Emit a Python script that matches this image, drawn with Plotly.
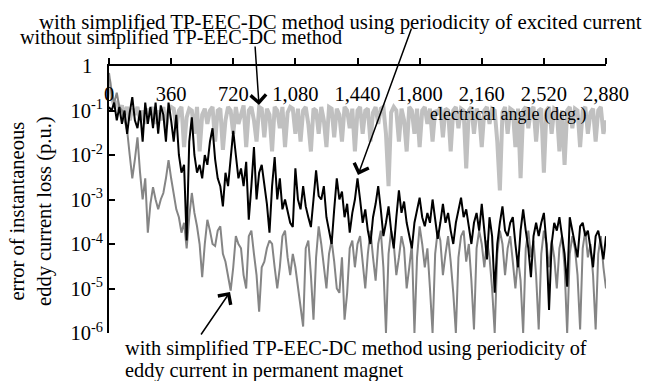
import plotly.graph_objects as go

# electrical angle samples (deg.), every 15 deg from 0 to 2880
angle_step = 15
n_points = 193
angles = [i * angle_step for i in range(n_points)]

x_tick_vals = [0, 360, 720, 1080, 1440, 1800, 2160, 2520, 2880]
x_tick_text = ["0", "360", "720", "1,080", "1,440", "1,800", "2,160", "2,520", "2,880"]
y_tick_vals = [1e-6, 1e-5, 1e-4, 1e-3, 1e-2, 1e-1, 1]
y_tick_text = ["10<sup>-6</sup>", "10<sup>-5</sup>", "10<sup>-4</sup>", "10<sup>-3</sup>",
               "10<sup>-2</sup>", "10<sup>-1</sup>", "1<sup>&nbsp;&nbsp;&nbsp;</sup>"]

# without simplified TP-EEC-DC method (light gray)
err_without = [
    0.5, 0.2, 0.13, 0.16, 0.1, 0.13, 0.08, 0.12, 0.06, 0.11,
    0.08, 0.12, 0.06, 0.1, 0.05, 0.11, 0.08, 0.12, 0.05, 0.1,
    0.06, 0.12, 0.04, 0.1, 0.12, 0.11, 0.04, 0.1, 0.12, 0.015,
    0.07, 0.11, 0.1, 0.03, 0.12, 0.012, 0.08, 0.11, 0.05, 0.1,
    0.12, 0.02, 0.1, 0.11, 0.013, 0.06, 0.12, 0.1, 0.03, 0.12,
    0.05, 0.09, 0.13, 0.015, 0.1, 0.12, 0.06, 0.02, 0.12, 0.11,
    0.025, 0.11, 0.08, 0.012, 0.12, 0.1, 0.04, 0.12, 0.015, 0.09,
    0.12, 0.11, 0.03, 0.11, 0.02, 0.1, 0.12, 0.05, 0.012, 0.11,
    0.1, 0.03, 0.12, 0.06, 0.015, 0.12, 0.11, 0.025, 0.11, 0.08,
    0.02, 0.12, 0.1, 0.04, 0.11, 0.012, 0.1, 0.12, 0.03, 0.1,
    0.11, 0.02, 0.09, 0.12, 0.05, 0.11, 0.12, 0.03, 0.002, 0.09,
    0.12, 0.1, 0.02, 0.11, 0.06, 0.012, 0.12, 0.1, 0.03, 0.11,
    0.015, 0.1, 0.12, 0.05, 0.11, 0.02, 0.1, 0.09, 0.12, 0.025,
    0.11, 0.1, 0.012, 0.1, 0.12, 0.04, 0.11, 0.1, 0.005, 0.1,
    0.12, 0.03, 0.11, 0.08, 0.015, 0.1, 0.12, 0.05, 0.11, 0.1,
    0.02, 0.0016, 0.09, 0.12, 0.03, 0.11, 0.1, 0.015, 0.11, 0.003,
    0.1, 0.12, 0.04, 0.1, 0.12, 0.02, 0.1, 0.11, 0.004, 0.1,
    0.12, 0.03, 0.11, 0.1, 0.012, 0.1, 0.006, 0.1, 0.12, 0.04,
    0.11, 0.1, 0.015, 0.1, 0.12, 0.03, 0.09, 0.11, 0.02, 0.1,
    0.12, 0.03, 0.06,
]

# with simplified method using periodicity of excited current (black)
err_excited = [
    0.12, 0.1, 0.15, 0.06, 0.12, 0.05, 0.1, 0.03, 0.09, 0.2,
    0.06, 0.04, 0.1, 0.02, 0.15, 0.05, 0.12, 0.04, 0.15, 0.03,
    0.13, 0.08, 0.02, 0.15, 0.06, 0.02, 0.08, 0.01, 0.004, 0.006,
    1.2e-4, 0.02, 0.07, 0.01, 0.004, 0.006, 0.003, 0.01, 0.006, 0.02,
    0.04, 0.008, 0.003, 0.002, 7e-4, 0.004, 0.002, 0.01, 0.035, 0.01,
    0.003, 0.005, 0.002, 0.007, 3.5e-4, 0.002, 0.015, 0.001, 0.004, 0.006,
    0.002, 8e-4, 1.8e-4, 0.002, 0.009, 0.001, 0.003, 6e-4, 0.001, 5e-4,
    3e-4, 2.4e-4, 0.005, 0.001, 6e-4, 0.002, 7e-4, 4e-4, 2.4e-4, 0.001,
    0.0045, 0.0012, 0.001, 0.002, 4e-4, 2e-4, 1e-4, 6e-4, 0.003, 0.001,
    0.0015, 4e-4, 8e-4, 1.8e-4, 5e-4, 0.001, 0.003, 0.001, 3e-4, 6e-4,
    2e-4, 1e-4, 4e-4, 8e-4, 0.002, 6e-4, 1.5e-4, 3e-4, 7e-4, 2e-4,
    8e-5, 4e-4, 0.0016, 5e-4, 9e-4, 3e-4, 1.5e-4, 8e-5, 3e-4, 6e-4,
    0.0011, 4e-4, 2.5e-4, 5e-4, 3e-4, 0.001, 4e-4, 1.3e-4, 3e-4, 8e-4,
    3e-4, 5e-4, 2e-4, 1e-4, 3e-4, 6e-4, 0.0011, 4e-4, 6e-4, 2.5e-4,
    1e-4, 3e-4, 5e-4, 2e-4, 8e-4, 2e-4, 4.5e-5, 4e-4, 1.5e-4, 8e-6,
    1e-4, 3e-4, 7e-4, 2e-4, 1.5e-4, 3e-4, 4e-4, 1e-4, 3e-5, 2e-4,
    6e-4, 2e-4, 8e-5, 1.8e-5, 1.5e-4, 3e-4, 1.5e-4, 3e-4, 5e-4, 1e-4,
    3.3e-6, 1e-4, 3e-4, 2e-4, 4e-4, 1.5e-4, 6e-5, 1.1e-5, 4e-4, 2e-4,
    1e-4, 5e-5, 2.5e-4, 3e-4, 1.5e-4, 2e-4, 8e-5, 3e-5, 1.5e-4, 2e-4,
    1e-4, 4.5e-5, 1.5e-4,
]

# with simplified method using periodicity of eddy current in permanent magnet (dark gray)
err_eddy = [
    0.7, 0.25, 0.15, 0.25, 0.12, 0.1, 0.06, 0.036, 0.01, 0.003,
    0.008, 0.025, 0.004, 0.001, 0.003, 1.8e-4, 8e-4, 0.0019, 0.001, 6e-4,
    0.001, 0.0014, 0.003, 0.0077, 0.003, 0.0012, 6e-4, 4e-4, 1.8e-4, 3e-4,
    8e-5, 4e-4, 0.0014, 5e-4, 2.5e-4, 1e-4, 1.8e-5, 1e-4, 3.5e-4, 2e-4,
    1e-4, 9e-5, 2e-4, 2.5e-4, 6e-5, 4e-5, 2e-5, 9e-6, 3e-5, 1.5e-4,
    1e-4, 8e-5, 2e-5, 1e-5, 1.5e-4, 2e-4, 6e-5, 2e-5, 3e-6, 3e-5,
    4e-5, 8e-5, 1.2e-4, 1e-4, 3e-5, 1e-5, 3e-5, 1.5e-4, 2e-4, 5e-5,
    2e-5, 6e-5, 3e-5, 1e-5, 4e-6, 1.4e-6, 8e-5, 1.2e-4, 2e-5, 2e-6,
    5e-5, 2.5e-4, 1e-4, 3e-5, 1e-5, 6e-5, 1.2e-4, 4e-5, 1e-5, 8e-6,
    5e-5, 2e-6, 8e-6, 8e-5, 1.2e-4, 3e-5, 1e-4, 1.5e-4, 4e-5, 1e-5,
    6e-5, 2e-4, 5e-5, 1.5e-5, 1e-4, 2e-4, 3e-5, 1e-6, 6e-5, 2e-4,
    1e-4, 2e-5, 5e-5, 1.5e-4, 8e-5, 1e-5, 3e-5, 1e-4, 1e-6, 5e-5,
    2.5e-4, 1e-4, 3e-5, 8e-5, 1e-5, 1e-6, 6e-5, 2e-4, 1.2e-4, 2e-5,
    6e-5, 1.5e-4, 4e-5, 8e-6, 1e-6, 5e-5, 1.5e-4, 2e-4, 4e-5, 1e-4,
    1.5e-5, 1.2e-6, 8e-5, 2e-4, 1e-4, 3e-5, 1.2e-4, 5e-5, 1e-5, 1e-6,
    6e-5, 2e-4, 1e-4, 2e-5, 8e-5, 1.5e-4, 4e-5, 1e-5, 5e-5, 1.5e-5,
    1e-6, 8e-5, 2e-4, 5e-5, 1.2e-4, 2e-5, 1.2e-6, 6e-5, 2e-4, 1e-4,
    3e-5, 1.2e-4, 5e-5, 1e-5, 8e-5, 1.5e-4, 3e-5, 1e-6, 6e-5, 1.5e-4,
    8e-5, 2e-5, 1.2e-6, 8e-5, 2e-4, 5e-5, 1e-4, 2e-5, 1.2e-6, 6e-5,
    1.5e-4, 3e-5, 1e-5,
]

FONT = "Times New Roman, Liberation Serif, DejaVu Serif, serif"

fig = go.Figure()
fig.add_trace(go.Scatter(x=angles, y=err_without, mode="lines",
                         line=dict(color="#c0c0c0", width=4), showlegend=False))
fig.add_trace(go.Scatter(x=angles, y=err_eddy, mode="lines",
                         line=dict(color="#858585", width=2), showlegend=False))
fig.add_trace(go.Scatter(x=angles, y=err_excited, mode="lines",
                         line=dict(color="#000000", width=2), showlegend=False))

fig.update_layout(
    template="none",
    width=657, height=381,
    margin=dict(l=101, r=59, t=58, b=56, autoexpand=False),
    paper_bgcolor="white", plot_bgcolor="white",
    font=dict(family=FONT, size=20.5, color="black"),
    showlegend=False,
)
fig.update_xaxes(
    range=[0, 2880], side="top", showgrid=False, zeroline=False, automargin=False,
    showline=True, linecolor="black", linewidth=2,
    ticks="outside", ticklen=6, tickwidth=2, tickcolor="black",
    tickvals=x_tick_vals, ticktext=x_tick_text,
    ticklabelposition="inside", ticklabelstandoff=22, ticklabeloverflow="allow",
    tickfont=dict(family=FONT, size=20.5, color="black"),
)
fig.update_yaxes(
    type="log", range=[-6, 0], showgrid=False, zeroline=False, automargin=False,
    showline=True, linecolor="black", linewidth=2,
    ticks="inside", ticklen=6, tickwidth=2, tickcolor="black",
    tickvals=y_tick_vals, ticktext=y_tick_text,
    tickfont=dict(family=FONT, size=20.5, color="black"),
)

texts = [
    dict(text="with simplified TP-EEC-DC method using periodicity of excited current",
         x=0.4668, y=1.1648, xanchor="center", yanchor="middle", size=20.8),
    dict(text="without simplified TP-EEC-DC method",
         x=-0.1831, y=1.1049, xanchor="left", yanchor="middle", size=20.2),
    dict(text="electrical angle (deg.)",
         x=0.8028, y=0.8165, xanchor="center", yanchor="middle", size=18),
    dict(text="with simplified TP-EEC-DC method using periodicity of",
         x=0.0282, y=-0.0562, xanchor="left", yanchor="middle", size=20.3),
    dict(text="eddy current in permanent magnet",
         x=0.0282, y=-0.1386, xanchor="left", yanchor="middle", size=20.3),
    dict(text="error of instantaneous<br>eddy current loss (p.u.)",
         x=-0.157, y=0.457, xanchor="center", yanchor="middle", textangle=-90, size=20.5),
]
for t in texts:
    size = t.pop("size")
    fig.add_annotation(xref="paper", yref="paper", showarrow=False,
                       font=dict(family=FONT, size=size, color="black"), **t)

arrows = [
    dict(x=0.3018, y=0.8539, ax=-4, ay=-60),
    dict(x=0.5010, y=0.5918, ax=54, ay=-148),
    dict(x=0.2435, y=0.1536, ax=-30, ay=44),
]
for a in arrows:
    fig.add_annotation(xref="paper", yref="paper", text="", showarrow=True,
                       arrowhead=4, arrowsize=2, arrowwidth=1.5, arrowcolor="black",
                       standoff=0, startstandoff=0, **a)

fig.write_html("out.html")
